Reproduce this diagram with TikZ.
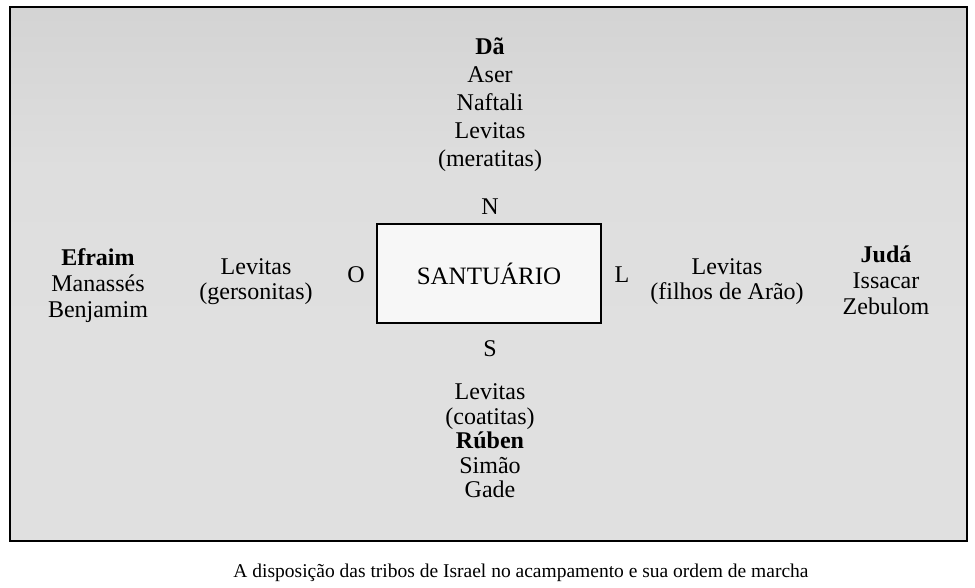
\documentclass[tikz,border=0pt]{standalone}
\usepackage{fontspec}
\setmainfont{Liberation Serif}
\pgfdeclareverticalshading{bgshade}{100bp}{
  color(0bp)=(white!88!black);
  color(40bp)=(white!88!black);
  color(60bp)=(white!87!black);
  color(75bp)=(white!83!black);
  color(88bp)=(white!79!black);
  color(100bp)=(white!85!black)}
\tikzset{
  lblA/.style={inner sep=0pt, align=center, font=\fontsize{24}{28}\selectfont},
  lblB/.style={inner sep=0pt, align=center, font=\fontsize{24}{26}\selectfont},
  lblC/.style={inner sep=0pt, align=center, font=\fontsize{24}{24.5}\selectfont},
  dir/.style={inner sep=0pt, font=\fontsize{24}{28}\selectfont},
  frame/.style={draw=black, line width=2pt},
  sbox/.style={draw=black, line width=1.4pt, fill=white!97!black, inner sep=0pt,
    minimum width=224pt, minimum height=99pt, font=\fontsize{25}{30}\selectfont}
}
\begin{document}
\begin{tikzpicture}[x=1pt,y=-1pt]
\useasboundingbox (0,0) rectangle (975,588);
\fill[white] (0,0) rectangle (975,588);
\shade[shading=bgshade] (10,7) rectangle (967,541);
\draw[frame] (10,7) rectangle (967,541);
% top group
\node[lblA, anchor=north] (north) at (490,38) {\textbf{Dã}\\Aser\\Naftali\\Levitas\\(meratitas)};
\node[dir, anchor=base] (n) at (490,215) {N};
% sanctuary
\node[sbox] (sant) at (489,273.5) {SANTUÁRIO};
\node[dir, anchor=base] (o) at (356,283) {O};
\node[dir, anchor=base] (l) at (622,283) {L};
\node[dir, anchor=base] (s) at (490,356) {S};
% left groups
\node[lblB, anchor=north] (west) at (98,248.6) {\textbf{Efraim}\\Manassés\\Benjamim};
\node[lblC, anchor=north] (wlev) at (256,258.6) {Levitas\\(gersonitas)};
% right groups
\node[lblC, anchor=north] (elev) at (727,258.6) {Levitas\\(filhos de Arão)};
\node[lblB, anchor=north] (east) at (886,245.6) {\textbf{Judá}\\Issacar\\Zebulom};
% bottom group
\node[lblC, anchor=north] (south) at (490,383.6) {Levitas\\(coatitas)\\\textbf{Rúben}\\Simão\\Gade};
% caption
\node[inner sep=0pt, anchor=base, font=\fontsize{19.5}{24}\selectfont] (cap) at (521,577) {A disposição das tribos de Israel no acampamento e sua ordem de marcha};
\end{tikzpicture}
\end{document}
